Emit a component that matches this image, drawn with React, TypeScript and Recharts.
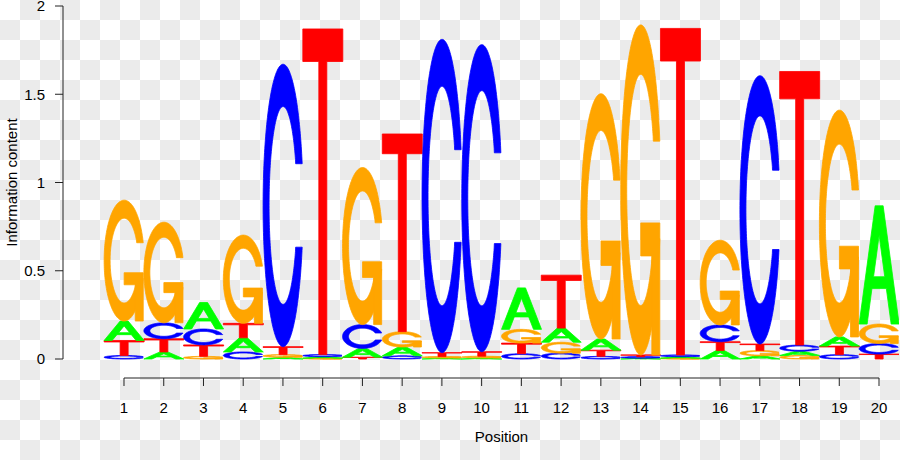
import React from "react";
import { ComposedChart, Bar, XAxis, YAxis, ReferenceLine } from "recharts";

// information content (bits) of each base at each position
const positions = [1, 2, 3, 4, 5, 6, 7, 8, 9, 10, 11, 12, 13, 14, 15, 16, 17, 18, 19, 20];
const infoA = [0.11, 0.04, 0.15, 0.08, 0.01, 0.008, 0.05, 0.05, 0.006, 0.006, 0.235, 0.08, 0.063, 0.005, 0.008, 0.048, 0.018, 0.024, 0.052, 0.67];
const infoC = [0.02, 0.09, 0.09, 0.04, 1.6, 0.012, 0.135, 0.018, 1.775, 1.74, 0.03, 0.033, 0.015, 0.008, 0.01, 0.095, 1.52, 0.035, 0.025, 0.06];
const infoG = [0.685, 0.57, 0.015, 0.5, 0.015, 0.005, 0.89, 0.087, 0.008, 0.01, 0.078, 0.062, 1.39, 1.87, 0.005, 0.48, 0.03, 0.02, 1.285, 0.11];
const infoT = [0.085, 0.075, 0.065, 0.082, 0.045, 1.845, 0.01, 1.12, 0.022, 0.025, 0.06, 0.3, 0.035, 0.01, 1.85, 0.05, 0.037, 1.55, 0.048, 0.028];
const bases = ["A", "C", "G", "T"];
const yTicks = [0, 0.5, 1, 1.5, 2];

const baseColors: Record<string, string> = {
  A: "#00ff00",
  C: "#0000ff",
  G: "#ffa500",
  T: "#ff0000",
};

const FONT = "'Liberation Sans', Arial, Helvetica, sans-serif";
const X_MIN = -0.535;
const X_MAX = 20.503;
const Y_MIN = -0.1076;
const Y_MAX = 2;

// each column stacked smallest at the bottom, like seqLogo does
const data = positions.map((pos, i) => {
  const cols = [infoA, infoC, infoG, infoT];
  const stack = bases
    .map((b, k) => ({ b, v: cols[k][i] }))
    .sort((a, b) => a.v - b.v);
  const row: Record<string, number | string> = { pos };
  stack.forEach((s, k) => {
    row[`v${k}`] = s.v;
    row[`l${k}`] = s.b;
  });
  return row;
});

// letter outlines in a unit square (y up), same construction as seqLogo
type Pt = [number, number];

function seq(a: number, b: number, n: number) {
  return Array.from({ length: n }, (_, i) => a + ((b - a) * i) / (n - 1));
}

function ring(): Pt[] {
  const a1 = seq(0.3 + Math.PI / 2, Math.PI, 50);
  const a2 = seq(Math.PI, 1.5 * Math.PI, 50);
  const at = (r: number) => (a: number): Pt => [0.5 + r * Math.sin(a), 0.5 + r * Math.cos(a)];
  const outer = [...a1.map(at(0.5)), ...a2.map(at(0.5))];
  const cut = 0.5 + 0.5 * Math.cos(0.3 + Math.PI / 2);
  const in1 = a1.map(at(0.35)).filter((p) => p[1] <= cut);
  in1[0] = [in1[0][0], cut];
  const inner = [...in1, ...a2.map(at(0.35))];
  const mirror = (p: Pt[]): Pt[] => [...p, ...p.slice().reverse().map(([x, y]) => [x, 1 - y] as Pt)];
  return [...mirror(outer), ...mirror(inner).reverse()];
}

const RING = ring();
const R1 = 0.5 + 0.5 * Math.sin(0.3 + Math.PI / 2);

const glyphs: Record<string, { polys: Pt[][]; evenodd?: boolean }> = {
  A: {
    polys: [
      [[0, 0], [0.4, 1], [0.6, 1], [1, 0], [0.8, 0], [0.68, 0.3], [0.32, 0.3], [0.2, 0]],
      [[0.36, 0.4], [0.5, 0.75], [0.64, 0.4]],
    ],
    evenodd: true,
  },
  C: { polys: [RING] },
  G: {
    polys: [
      RING,
      [[R1, 0.4], [0.5, 0.4], [0.5, 0.3], [R1 - 0.2, 0.3], [R1 - 0.2, 0], [R1, 0]],
    ],
  },
  T: { polys: [[[0, 1], [1, 1], [1, 0.9], [0.6, 0.9], [0.6, 0], [0.4, 0], [0.4, 0.9], [0, 0.9]]] },
};

function Letter({ letter, x, y, width, height }: { letter?: string; x: number; y: number; width: number; height: number }) {
  if (!letter || !(height > 0) || !(width > 0)) return null;
  const g = glyphs[letter];
  const color = baseColors[letter];
  const toPath = (poly: Pt[]) =>
    poly
      .map(([ux, uy], i) => `${i ? "L" : "M"}${(x + ux * width).toFixed(2)},${(y + (1 - uy) * height).toFixed(2)}`)
      .join("") + "Z";
  if (g.evenodd) {
    return <path d={g.polys.map(toPath).join("")} fill={color} fillRule="evenodd" stroke={color} strokeWidth={0.8} />;
  }
  return (
    <g>
      {g.polys.map((p, i) => (
        <path key={i} d={toPath(p)} fill={color} stroke={color} strokeWidth={0.8} />
      ))}
    </g>
  );
}

export default function App() {
  return (
    <div
      style={{
        position: "absolute",
        left: 0,
        top: 0,
        width: 900,
        height: 460,
        backgroundColor: "#ffffff",
        backgroundImage: "conic-gradient(#ebebeb 0 25%, #ffffff 0 50%, #ebebeb 0 75%, #ffffff 0 100%)",
        backgroundSize: "40px 40px",
        backgroundPosition: "0 0",
        fontFamily: FONT,
      }}
    >
      <ComposedChart
        width={900}
        height={460}
        data={data}
        margin={{ top: 6, right: 1, bottom: 0, left: 0 }}
        barCategoryGap={0}
        barGap={0}
      >
        <XAxis
          type="number"
          dataKey="pos"
          domain={[X_MIN, X_MAX]}
          ticks={positions}
          interval={0}
          allowDataOverflow
          axisLine={false}
          tickSize={8}
          tickMargin={16}
          tickLine={{ stroke: "#222" }}
          tick={{ fontSize: 15, fill: "#000", fontFamily: FONT }}
          height={82}
          label={{
            content: () => (
              <text x={501.5} y={442} textAnchor="middle" fontSize={15} fill="#000" fontFamily={FONT}>
                Position
              </text>
            ),
          }}
        />
        <YAxis
          type="number"
          domain={[Y_MIN, Y_MAX]}
          ticks={yTicks}
          interval={0}
          allowDataOverflow
          axisLine={false}
          width={63}
          tickSize={8}
          tickMargin={10}
          tickLine={{ stroke: "#222" }}
          tick={{ fontSize: 15, fill: "#000", fontFamily: FONT }}
          label={{
            content: () => (
              <text
                x={17}
                y={182.5}
                transform="rotate(-90 17 182.5)"
                textAnchor="middle"
                fontSize={15}
                fill="#000"
                fontFamily={FONT}
              >
                Information content
              </text>
            ),
          }}
        />
        <ReferenceLine
          segment={[{ x: positions[0], y: Y_MIN }, { x: positions[positions.length - 1], y: Y_MIN }]}
          stroke="#222"
          strokeWidth={1}
          ifOverflow="visible"
        />
        <ReferenceLine
          segment={[{ x: X_MIN, y: yTicks[0] }, { x: X_MIN, y: yTicks[yTicks.length - 1] }]}
          stroke="#222"
          strokeWidth={1}
          ifOverflow="visible"
        />
        {[0, 1, 2, 3].map((k) => (
          <Bar
            key={k}
            dataKey={`v${k}`}
            stackId="logo"
            isAnimationActive={false}
            shape={(p: any) => (
              <Letter letter={p.payload?.[`l${k}`]} x={p.x} y={p.y} width={p.width} height={p.height} />
            )}
          />
        ))}
      </ComposedChart>
    </div>
  );
}
